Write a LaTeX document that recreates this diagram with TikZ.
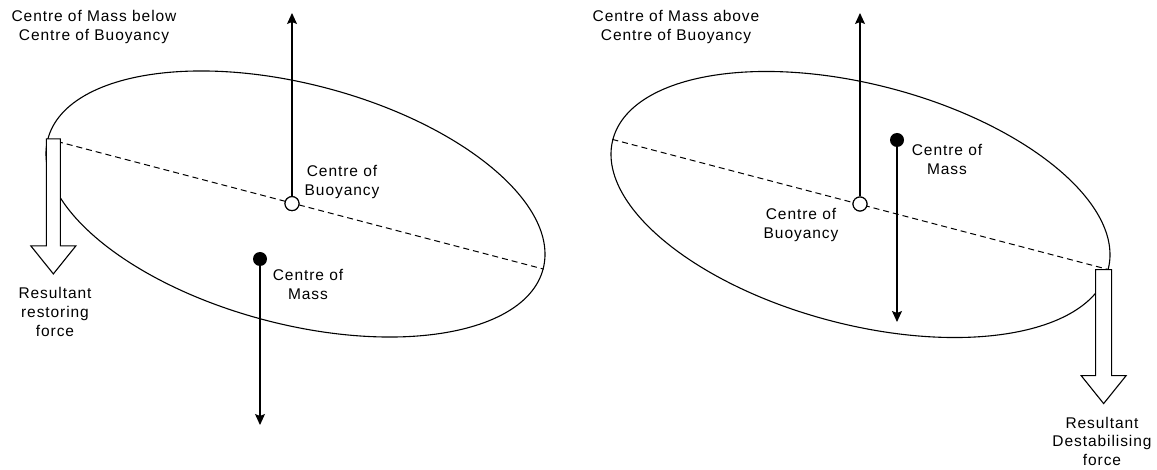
\documentclass[tikz,border=0pt]{standalone}
\usepackage{fontspec}
\setmainfont{Liberation Sans}[LetterSpace=6]
\usetikzlibrary{arrows.meta,shapes.geometric}
\begin{document}
\begin{tikzpicture}[x=1bp,y=-1bp,
  hull/.style={draw,ellipse,line width=1.1bp,minimum width=512bp,minimum height=240bp,inner sep=0pt,rotate=-14.7},
  axisline/.style={line width=1bp,dash pattern=on 6bp off 4bp},
  force/.style={line width=1.1bp,-{Stealth[length=11bp,width=10bp,inset=2bp]}},
  buoy/.style={circle,draw,fill=white,line width=1.1bp,minimum size=14bp,inner sep=0pt},
  mass/.style={circle,fill=black,minimum size=14bp,inner sep=0pt},
  lbl/.style={font=\fontsize{15.5bp}{19bp}\selectfont,align=center,inner sep=0pt},
  hollow/.style={draw,fill=white,line width=1.1bp,line join=miter}
]
\useasboundingbox (0,0) rectangle (1157,470);

% ---------- left diagram ----------
\node[hull] (E1) at (295.5,204) {};
\draw[axisline] (E1.west) -- (E1.east);
\coordinate (U1) at (292,13);
\coordinate (D1) at (260,425);
\node[mass] (M1) at (260,259) {};
\draw[force] (M1.center) -- (D1);
\node[buoy] (B1) at (292,203.6) {};
\draw[force] (B1.north) -- (U1);
\node[buoy] at (B1) {};
\draw[hollow] ([xshift=-1bp]E1.west) -- ++(14,0) -- ++(0,107) -- ++(15.5,0)
  -- ++(-22.5,28) -- ++(-22.5,-28) -- ++(15.5,0) -- cycle;
\node[lbl] (T1) at (94,27) {Centre of Mass below\\Centre of Buoyancy};
\node[lbl] (LB1) at (342,182) {Centre of\\Buoyancy};
\node[lbl] (LM1) at (308,284) {Centre of\\Mass};
\node[lbl] (LR1) at (55,312) {Resultant\\restoring\\force};

% ---------- right diagram ----------
\node[hull] (E2) at (860.5,204.5) {};
\draw[axisline] (E2.west) -- (E2.east);
\coordinate (U2) at (860,13);
\coordinate (D2) at (897,322);
\node[mass] (M2) at (897,140) {};
\draw[force] (M2.center) -- (D2);
\node[buoy] (B2) at (860,204) {};
\draw[force] (B2.north) -- (U2);
\node[buoy] at (B2) {};
\draw[hollow] ([xshift=3bp]E2.east) -- ++(0,106) -- ++(14.5,0)
  -- ++(-22.5,28) -- ++(-22.5,-28) -- ++(14.5,0) -- ++(0,-106) -- cycle;
\node[lbl] (T2) at (676,27) {Centre of Mass above\\Centre of Buoyancy};
\node[lbl] (LM2) at (947,159) {Centre of\\Mass};
\node[lbl] (LB2) at (801,225) {Centre of\\Buoyancy};
\node[lbl,font=\fontsize{15.5bp}{18.5bp}\selectfont] (LR2) at (1102,441) {Resultant\\Destabilising\\force};
\end{tikzpicture}
\end{document}
